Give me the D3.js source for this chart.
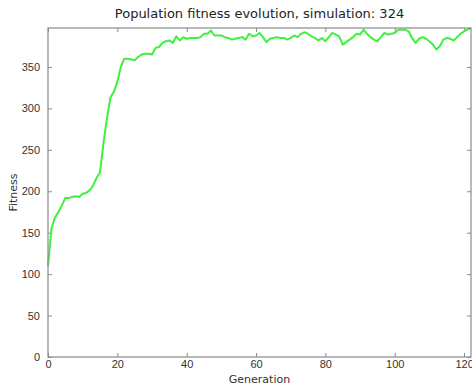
<!DOCTYPE html>
<html>
<head>
<meta charset="utf-8">
<script src="https://cdn.jsdelivr.net/npm/d3@7"></script>
<style>
  body { margin: 0; background: #fff; }
  svg { display: block; font-family: "DejaVu Sans", sans-serif; }
</style>
</head>
<body>
<svg id="chart" width="472" height="384"></svg>
<script>
// data
const titleText = "Population fitness evolution, simulation: 324";
const xLabel = "Generation";
const yLabel = "Fitness";
const xTicks = [0, 20, 40, 60, 80, 100, 120];
const yTicks = [0, 50, 100, 150, 200, 250, 300, 350];
const fitness = [
  110, 155, 168, 175, 183, 192, 192, 193, 194, 193,
  197, 198, 201, 207, 216, 223, 258, 288, 313, 320,
  332, 350, 360, 360, 359, 358, 362, 365, 366, 366,
  365, 373, 374, 379, 381, 382, 379, 387, 382, 386,
  384, 385, 385, 385, 386, 390, 390, 394, 388, 388,
  388, 386, 385, 383, 384, 385, 386, 383, 390, 387,
  388, 391, 386, 380, 384, 385, 386, 385, 385, 383,
  385, 388, 386, 390, 392, 390, 387, 385, 382, 385,
  381, 386, 391, 389, 387, 377, 380, 383, 386, 390,
  389, 395, 390, 386, 383, 381, 386, 391, 389, 390,
  391, 395, 395, 395, 393, 385, 379, 384, 386, 384,
  381, 377, 371, 375, 383, 385, 384, 382, 386, 390,
  393, 395, 397
];
const generations = fitness.map((d, i) => i);

const margin = { top: 28, right: 1, bottom: 27, left: 48 };
const W = 472, H = 384;
const width = W - margin.left - margin.right;
const height = H - margin.top - margin.bottom;

const svg = d3.select("#chart");
const g = svg.append("g").attr("transform", `translate(${margin.left},${margin.top})`);

const x = d3.scaleLinear().domain([0, d3.max(generations)]).range([0, width]);
const y = d3.scaleLinear().domain([0, d3.max(fitness)]).range([height, 0]);

const axisColor = "#8a8a8a";
const textColor = "#333";
const tickLen = 4;

// axes: ticks point inward, labels only on bottom/left
const styleAxis = sel => {
  sel.select(".domain").remove();
  sel.selectAll(".tick line").attr("stroke", axisColor).attr("stroke-width", 1);
  sel.selectAll(".tick text").attr("fill", textColor).style("font-size", "11px");
};

g.append("g")
  .attr("transform", `translate(0,${height})`)
  .call(d3.axisBottom(x).tickValues(xTicks).tickSizeInner(-tickLen).tickPadding(3))
  .call(styleAxis);

g.append("g")
  .call(d3.axisLeft(y).tickValues(yTicks).tickSizeInner(-tickLen).tickPadding(8))
  .call(styleAxis);

g.append("g")
  .call(d3.axisTop(x).tickValues(xTicks).tickSizeInner(-tickLen).tickFormat(""))
  .call(styleAxis);

g.append("g")
  .attr("transform", `translate(${width},0)`)
  .call(d3.axisRight(y).tickValues(yTicks).tickSizeInner(-tickLen).tickFormat(""))
  .call(styleAxis);

// the curve
const line = d3.line()
  .x((d, i) => x(generations[i]))
  .y(d => y(d));

g.append("path")
  .datum(fitness)
  .attr("fill", "none")
  .attr("stroke", "#3ff03f")
  .attr("stroke-width", 2)
  .attr("stroke-linejoin", "round")
  .attr("d", line);

// frame
g.append("rect")
  .attr("width", width).attr("height", height)
  .attr("fill", "none")
  .attr("stroke", axisColor)
  .attr("stroke-width", 1.2);

// titles
svg.append("text")
  .attr("x", margin.left + width / 2).attr("y", 18)
  .attr("text-anchor", "middle")
  .attr("fill", "#222")
  .style("font-size", "13px")
  .text(titleText);

svg.append("text")
  .attr("x", margin.left + width / 2).attr("y", 383)
  .attr("text-anchor", "middle")
  .attr("fill", textColor)
  .style("font-size", "11px")
  .text(xLabel);

svg.append("text")
  .attr("transform", `translate(17,${margin.top + height / 2}) rotate(-90)`)
  .attr("text-anchor", "middle")
  .attr("fill", textColor)
  .style("font-size", "11px")
  .text(yLabel);
</script>
</body>
</html>
